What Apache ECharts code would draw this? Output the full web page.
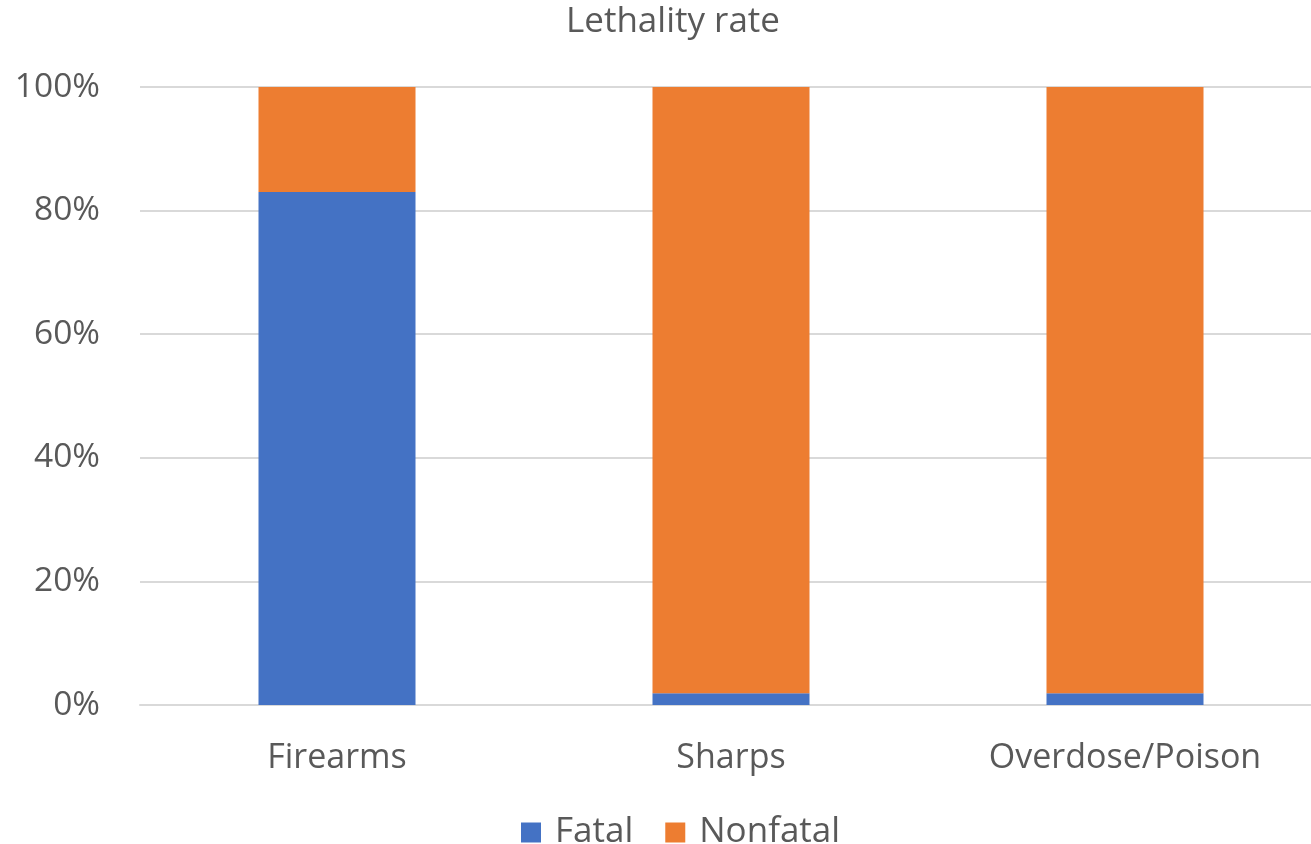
<!DOCTYPE html>
<html>
<head>
<meta charset="utf-8">
<script src="https://cdn.jsdelivr.net/npm/echarts@6/dist/echarts.min.js"></script>
<style>html,body{margin:0;padding:0;background:#fff;overflow:hidden;}#c{width:1322px;height:844px;}</style>
</head>
<body>
<div id="c"></div>
<script>
const categories = ['Firearms', 'Sharps', 'Overdose/Poison'];
const fatal = [83, 1.9, 1.9];
const nonfatal = [17, 98.1, 98.1];
const seriesNames = ['Fatal', 'Nonfatal'];
const chartTitle = 'Lethality rate';

const FONT = 'Open Sans';
const TXT = '#595959';
const chart = echarts.init(document.getElementById('c'), null, {renderer: 'canvas'});
chart.setOption({
  animation: false,
  color: ['#4472C4', '#ED7D31'],
  title: {
    text: chartTitle, left: 561, top: 0,
    textStyle: {fontFamily: FONT, fontSize: 35, fontWeight: 'normal', color: TXT}
  },
  legend: {
    data: seriesNames, left: 516, top: 810,
    itemWidth: 20, itemHeight: 20, itemGap: 32,
    icon: 'rect',
    textStyle: {fontFamily: FONT, fontSize: 35, color: TXT, padding: [0, 0, 0, 9]}
  },
  grid: {left: 140, right: 0, top: 87, bottom: 139, containLabel: false},
  xAxis: {
    type: 'category', data: categories,
    axisLine: {lineStyle: {color: '#D9D9D9', width: 2}},
    axisTick: {show: false},
    axisLabel: {fontFamily: FONT, fontSize: 34, color: TXT, margin: 36}
  },
  yAxis: {
    type: 'value', min: 0, max: 100, interval: 20,
    axisLabel: {formatter: '{value}%', fontFamily: FONT, fontSize: 33.5, color: TXT, margin: 40},
    splitLine: {lineStyle: {color: '#D9D9D9', width: 2}},
    axisLine: {show: false}, axisTick: {show: false}
  },
  series: [
    {name: seriesNames[0], type: 'bar', stack: 'a', data: fatal, barWidth: 157},
    {name: seriesNames[1], type: 'bar', stack: 'a', data: nonfatal, barWidth: 157}
  ]
});
</script>
</body>
</html>
